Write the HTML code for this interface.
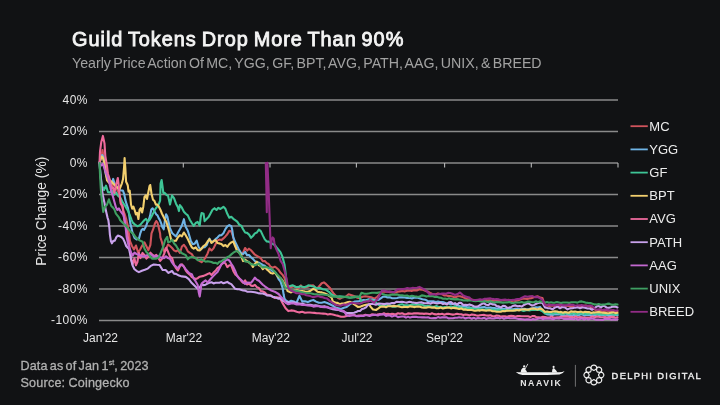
<!DOCTYPE html>
<html><head><meta charset="utf-8"><style>
html,body{margin:0;padding:0;background:#111214;}
body{width:720px;height:405px;overflow:hidden;position:relative;font-family:"Liberation Sans",Arial,sans-serif;}
svg{position:absolute;left:0;top:0;}
.t{position:absolute;white-space:nowrap;}
#title{left:72px;top:27.8px;font-size:19.9px;font-weight:normal;color:#f4f4f4;letter-spacing:0.98px;word-spacing:-1.6px;-webkit-text-stroke:0.85px #f4f4f4;}
#sub{left:72px;top:55px;font-size:14.2px;color:#a2a2a2;letter-spacing:0px;word-spacing:-1.6px;}
#f1{left:20.5px;top:358.6px;font-size:12.6px;color:#b0b0b0;letter-spacing:0.1px;word-spacing:-1.3px;-webkit-text-stroke:0.3px #b0b0b0;}
#f2{left:20.5px;top:376px;font-size:12.6px;color:#b0b0b0;letter-spacing:0.2px;word-spacing:-0.6px;-webkit-text-stroke:0.3px #b0b0b0;}
sup{font-size:7px;vertical-align:5px;line-height:0;}
</style></head><body>
<div class="t" id="title">Guild Tokens Drop More Than 90%</div>
<div class="t" id="sub">Yearly Price Action Of MC, YGG, GF, BPT, AVG, PATH, AAG, UNIX, &amp; BREED</div>
<svg width="720" height="405" viewBox="0 0 720 405">
<g stroke="#8a8a8a" stroke-width="1.4">
<line x1="99.0" y1="100.0" x2="618.0" y2="100.0" />
<line x1="99.0" y1="131.5" x2="618.0" y2="131.5" />
<line x1="99.0" y1="163.0" x2="618.0" y2="163.0" />
<line x1="99.0" y1="194.5" x2="618.0" y2="194.5" />
<line x1="99.0" y1="226.0" x2="618.0" y2="226.0" />
<line x1="99.0" y1="257.5" x2="618.0" y2="257.5" />
<line x1="99.0" y1="289.0" x2="618.0" y2="289.0" />
<line x1="99.0" y1="320.5" x2="618.0" y2="320.5" />
<line x1="183.3" y1="163.0" x2="183.3" y2="167.6" stroke="#b8b8b8" stroke-width="1.1" />
<line x1="270.0" y1="163.0" x2="270.0" y2="167.6" stroke="#b8b8b8" stroke-width="1.1" />
<line x1="356.4" y1="163.0" x2="356.4" y2="167.6" stroke="#b8b8b8" stroke-width="1.1" />
<line x1="444.6" y1="163.0" x2="444.6" y2="167.6" stroke="#b8b8b8" stroke-width="1.1" />
<line x1="531.3" y1="163.0" x2="531.3" y2="167.6" stroke="#b8b8b8" stroke-width="1.1" />
<line x1="618.0" y1="163.0" x2="618.0" y2="167.6" stroke="#b8b8b8" stroke-width="1.1" />
</g>
<g font-family="Liberation Sans, Arial, sans-serif" font-size="12" letter-spacing="0.45" fill="#e6e6e6" text-anchor="end">
<text x="87.9" y="103.6">40%</text>
<text x="87.9" y="135.1">20%</text>
<text x="87.9" y="166.6">0%</text>
<text x="87.9" y="198.1">-20%</text>
<text x="87.9" y="229.6">-40%</text>
<text x="87.9" y="261.1">-60%</text>
<text x="87.9" y="292.6">-80%</text>
<text x="87.9" y="324.1">-100%</text>
</g>
<g font-family="Liberation Sans, Arial, sans-serif" font-size="12" fill="#e6e6e6" text-anchor="middle">
<text x="100.5" y="341.6">Jan'22</text>
<text x="184.0" y="341.6">Mar'22</text>
<text x="270.8" y="341.6">May'22</text>
<text x="357.0" y="341.6">Jul'22</text>
<text x="444.5" y="341.6">Sep'22</text>
<text x="531.5" y="341.6">Nov'22</text>
</g>
<text transform="translate(46.3,211.2) rotate(-90)" font-family="Liberation Sans, Arial, sans-serif" font-size="13.8" fill="#e6e6e6" text-anchor="middle">Price Change (%)</text>
<g fill="none" stroke-width="2.1" stroke-linejoin="round" stroke-linecap="round">
<polyline points="99.5,163.0 101.0,158.0 102.5,150.0 104.0,160.0 106.0,168.5 108.0,175.0 110.0,182.5 112.0,186.1 114.0,183.6 116.0,187.5 118.9,193.1 120.4,200.0 121.9,206.3 123.3,210.8 124.8,214.5 126.3,219.4 127.8,225.7 128.5,231.4 129.3,235.6 130.0,241.2 132.0,246.0 134.0,249.5 136.0,245.5 138.0,252.3 140.0,249.8 142.0,246.1 144.4,242.3 146.4,246.2 148.4,250.2 150.4,244.9 151.5,233.4 153.0,229.7 154.9,223.6 156.3,221.0 157.4,222.5 158.3,225.8 160.1,233.4 160.4,237.4 161.9,242.0 163.7,249.3 164.2,251.5 166.2,248.5 168.1,244.5 170.0,246.0 172.1,248.0 174.0,250.3 176.0,251.4 177.9,250.1 179.9,253.0 181.9,246.5 183.9,244.8 185.8,247.3 187.8,251.4 189.8,252.9 191.8,254.1 193.7,257.3 195.7,258.1 197.7,259.4 199.7,261.1 201.6,262.2 203.6,260.2 205.6,257.3 207.6,253.4 209.5,248.4 211.5,250.5 213.5,248.4 215.5,244.2 217.5,240.4 219.4,239.6 221.4,240.1 223.4,238.4 225.4,236.4 227.3,234.2 229.3,230.9 231.3,231.3 233.3,237.5 235.2,245.0 237.2,251.2 239.2,251.7 241.2,254.3 243.1,252.7 245.1,248.0 247.1,250.6 249.0,248.7 251.0,250.3 254.9,254.7 256.9,255.9 260.8,258.2 262.8,261.3 264.8,261.0 266.8,263.1 268.7,264.0 270.7,266.8 272.7,267.8 274.7,266.7 276.6,267.9 278.6,269.8 280.6,272.8 282.6,274.9 284.5,277.9 286.5,284.3 288.5,286.3 290.5,287.3 294.4,286.3 296.4,287.7 298.4,288.2 300.8,285.4 302.3,287.3 305.1,287.6 307.8,286.8 310.6,285.5 313.3,285.4 315.4,287.4 317.5,288.2 319.6,285.8 321.7,283.3 323.9,282.4 325.9,283.9 327.9,285.9 329.9,287.9 331.8,290.8 333.8,293.8 335.8,295.8 337.8,297.7 339.7,298.7 342.5,297.2 345.7,296.8 348.6,294.3 351.6,295.3 354.6,296.3 357.5,297.7 359.5,298.2 362.4,296.8 365.4,296.3 368.4,296.8 371.3,297.3 374.3,298.7 377.3,296.8 379.2,294.8 381.8,291.8 384.4,291.8 387.1,291.6 389.7,292.3 392.3,292.0 395.0,292.6 397.6,291.8 399.9,291.4 402.3,291.0 404.6,291.4 406.9,290.7 409.2,290.5 411.5,290.9 414.1,290.2 416.8,290.5 419.4,289.4 422.4,289.6 425.3,290.9 427.6,291.5 430.0,293.0 432.0,293.8 434.0,294.1 436.0,294.3 438.0,293.4 440.0,294.0 442.0,294.2 444.0,295.4 446.0,295.2 448.0,295.9 450.0,296.0 452.5,296.5 455.0,297.5 457.5,296.2 460.0,296.3 462.5,297.0 465.0,298.1 467.2,298.9 469.4,299.4 471.6,299.6 473.8,300.0 475.8,300.0 477.9,300.1 479.9,300.0 481.9,300.2 483.9,300.7 485.9,299.8 488.0,300.4 490.0,300.3 492.1,300.9 494.2,300.8 496.3,299.9 498.5,301.0 500.6,300.9 502.7,300.0 504.8,300.1 506.9,300.1 509.0,299.9 511.2,301.2 513.3,300.4 515.4,301.1 517.5,300.6 520.0,299.5 522.5,298.7 525.0,298.8 527.1,298.9 529.2,298.4 531.2,298.2 533.3,297.4 535.4,296.8 537.5,296.3 540.0,297.6 542.5,298.1 545.0,305.8 547.0,305.2 549.0,305.9 551.0,305.8 553.0,305.4 555.0,306.0 557.0,305.7 559.0,305.9 561.0,305.8 563.0,305.7 565.0,306.0 567.1,305.8 569.2,306.2 571.2,306.7 573.3,306.7 575.4,306.6 577.5,306.6 579.6,305.8 581.7,306.8 583.8,305.8 585.8,305.6 587.9,306.2 590.0,306.2 592.0,308.0 594.0,308.8 596.0,310.5 598.1,310.8 600.3,310.3 602.5,311.4 604.6,310.7 606.8,310.8 608.9,311.0 611.0,311.5 613.2,311.7 615.4,311.2 617.5,311.2" stroke="#d0545c" />
<polyline points="99.5,163.0 100.8,158.0 102.2,155.0 103.4,157.0 104.6,166.0 105.8,174.5 107.0,177.8 109.0,179.5 111.8,183.5 113.2,178.9 114.8,184.8 117.0,186.5 119.0,189.7 121.0,190.5 122.9,190.5 124.2,194.1 125.4,200.1 126.6,204.2 127.9,207.8 129.1,214.3 129.7,219.2 130.3,223.3 132.6,232.9 134.5,238.0 136.5,239.4 139.0,238.6 140.2,233.7 141.5,230.1 142.7,228.9 144.0,229.8 145.2,227.8 146.4,225.2 147.6,221.4 148.9,219.6 150.1,215.6 151.3,209.5 152.6,208.3 153.8,210.0 155.0,212.3 156.3,214.5 157.5,215.4 158.7,218.1 160.0,220.3 161.2,223.4 162.4,227.3 163.7,229.3 164.9,220.2 166.1,214.2 167.4,216.8 168.6,222.2 170.1,229.0 170.1,228.3 172.1,233.0 174.0,234.7 176.0,236.4 177.9,232.8 179.9,229.2 181.9,225.5 183.9,219.2 184.8,223.5 185.8,227.1 187.8,230.7 189.8,237.2 190.8,241.1 192.8,244.1 194.7,243.7 196.7,240.7 198.7,247.3 200.7,249.4 202.6,247.5 204.6,247.3 206.6,245.3 208.6,240.4 209.5,238.7 211.5,242.2 213.5,241.3 215.5,239.1 217.5,237.5 219.4,235.4 221.4,235.2 223.4,233.3 225.4,229.1 227.3,226.4 229.3,225.1 231.3,226.2 232.3,230.3 233.3,237.3 235.2,242.1 237.2,246.0 239.2,250.1 241.2,253.3 243.1,254.1 245.1,251.9 247.0,255.1 249.0,255.0 251.0,257.2 252.9,258.9 254.9,261.1 256.9,262.3 258.9,262.6 262.8,265.0 264.8,265.8 266.8,267.9 270.7,269.5 272.7,271.3 274.7,271.8 276.6,274.8 278.6,279.1 280.6,281.6 282.6,287.9 283.6,294.3 284.5,298.6 285.5,300.1 288.5,302.1 291.1,300.7 293.8,301.5 296.4,303.1 299.4,295.8 302.2,301.4 305.0,301.3 307.8,302.1 310.6,300.7 313.3,300.0 316.1,301.6 318.9,302.8 321.6,302.8 324.4,302.1 327.2,303.0 330.0,304.2 332.8,305.7 335.6,307.6 338.4,308.2 341.1,309.0 343.9,307.7 346.7,306.9 349.4,304.7 352.2,302.8 355.0,301.5 357.8,301.4 360.6,300.7 363.3,300.0 366.1,300.3 368.9,299.3 371.6,299.5 374.4,300.0 376.6,300.2 378.9,299.7 382.8,296.8 385.1,296.5 387.4,297.4 389.7,297.3 392.2,298.2 394.7,298.3 397.1,298.0 399.6,297.3 402.1,297.4 404.6,297.5 407.0,297.9 409.5,297.8 412.0,298.5 414.4,297.6 416.9,297.6 419.4,298.3 422.4,299.3 425.3,299.7 427.6,301.0 430.0,301.2 432.0,301.4 434.0,301.4 436.0,302.0 438.0,301.4 440.0,302.0 442.0,302.1 444.0,302.4 446.0,303.3 448.0,303.3 450.0,304.0 452.5,303.8 455.0,304.4 457.5,305.3 460.0,306.3 462.5,306.3 464.8,306.4 467.0,307.3 469.3,307.3 471.5,308.2 473.8,308.1 475.9,308.0 477.9,307.4 480.0,307.5 482.1,307.2 484.2,307.0 486.2,307.8 488.3,307.8 490.4,307.6 492.5,308.0 494.6,308.0 496.7,308.8 498.8,308.0 500.8,309.3 502.9,308.7 505.0,308.8 507.1,308.9 509.2,308.8 511.2,309.3 513.3,309.3 515.4,308.9 517.5,308.8 519.6,309.1 521.7,309.3 523.8,308.7 525.8,309.1 527.9,309.4 530.0,308.8 532.0,308.4 534.0,307.7 536.0,307.3 538.0,307.6 540.0,306.9 542.5,310.2 545.0,313.0 547.5,314.5 550.0,314.8 552.0,315.3 554.0,314.5 556.0,314.4 558.0,314.5 560.0,314.5 562.0,315.2 564.0,315.4 566.0,315.5 568.0,314.6 570.0,315.0 572.1,315.5 574.2,314.8 576.2,314.9 578.3,315.4 580.4,314.5 582.5,314.5 584.6,315.6 586.7,314.8 588.8,314.9 590.8,315.3 592.9,315.4 595.0,315.2 597.0,314.5 599.1,315.0 601.1,315.2 603.2,315.3 605.2,314.9 607.3,315.4 609.3,316.0 611.4,315.2 613.4,315.4 615.5,314.8 617.5,315.4" stroke="#6fb4e6" />
<polyline points="99.5,163.0 100.5,175.0 102.0,186.0 104.0,190.0 106.0,185.6 108.0,192.3 110.0,192.4 112.0,190.6 114.0,194.7 116.0,192.4 118.0,195.7 120.4,197.8 122.9,202.7 125.4,206.4 127.9,210.7 129.7,215.0 131.6,219.8 132.8,222.6 135.0,224.6 137.6,226.3 140.2,224.9 142.8,221.9 144.5,220.0 146.0,218.9 148.0,221.6 149.7,219.7 151.4,216.7 153.2,213.3 154.9,209.6 156.6,207.3 158.3,205.4 160.1,200.7 160.6,183.5 161.6,180.0 162.5,186.2 163.3,192.9 164.5,192.7 166.3,194.8 168.1,195.9 170.0,204.4 172.0,195.4 174.0,198.1 176.0,203.7 177.9,207.3 178.9,211.1 179.9,205.0 181.9,207.7 183.9,211.7 185.8,213.8 187.8,215.4 189.8,219.7 191.8,223.0 193.7,225.8 195.7,223.0 197.7,221.9 199.7,225.5 200.7,217.3 201.6,213.0 203.6,213.8 204.6,221.1 206.6,219.0 208.6,217.1 210.5,213.5 212.5,209.8 214.5,208.2 216.5,210.0 218.4,207.8 220.4,209.0 223.4,206.8 225.4,208.8 227.3,213.8 229.3,217.7 231.3,216.8 233.3,218.8 235.2,220.2 237.2,221.7 239.2,224.7 241.2,225.6 243.1,229.3 245.1,232.5 247.1,232.9 249.1,234.6 251.0,237.8 252.9,236.0 254.9,233.4 256.9,232.5 258.9,229.5 260.8,231.1 262.8,235.4 264.8,239.4 266.8,241.5 268.7,241.6 270.7,242.9 272.7,243.9 274.7,245.0 276.6,247.5 278.6,250.0 280.6,252.4 282.6,257.2 284.5,264.5 285.5,272.4 286.5,282.3 287.5,286.3 289.5,286.3 292.5,285.3 296.4,287.3 298.4,286.9 300.4,286.3 304.3,287.3 306.3,286.6 308.3,285.3 312.2,286.3 314.2,286.6 316.2,288.2 320.0,288.0 322.9,289.3 325.9,289.8 328.9,291.8 331.8,294.8 334.8,296.3 337.2,296.5 339.7,296.3 342.2,296.5 344.7,296.8 347.1,297.3 349.6,297.7 352.1,297.4 354.6,297.3 357.1,296.6 359.5,296.8 361.5,302.0 364.4,301.5 366.9,300.8 369.4,300.0 371.9,300.1 374.3,301.5 377.1,303.6 379.9,305.7 382.3,305.8 384.8,305.4 387.2,305.4 389.7,305.2 392.7,306.7 395.0,306.7 397.3,305.9 399.6,304.7 402.1,304.3 404.6,305.4 407.0,305.2 409.5,305.2 412.0,304.4 414.4,304.8 416.9,304.5 419.4,304.7 421.5,304.4 423.6,305.4 425.8,306.2 427.9,305.7 430.0,306.2 432.1,306.8 434.3,306.7 436.4,306.0 438.6,307.2 440.7,306.9 442.9,307.5 445.0,307.0 447.0,307.2 449.0,307.1 451.0,306.4 453.0,306.9 455.0,306.3 457.1,307.3 459.2,307.6 461.2,307.5 463.3,308.3 465.4,308.4 467.5,308.8 469.6,308.4 471.7,308.4 473.8,308.5 475.8,308.8 477.9,308.8 480.0,309.4 482.1,309.4 484.2,309.8 486.2,309.6 488.3,309.5 490.4,309.9 492.5,309.4 494.6,309.7 496.7,310.2 498.8,309.7 500.8,309.5 502.9,310.5 505.0,310.0 507.0,310.4 509.0,309.9 511.0,310.0 513.0,310.3 515.0,310.4 517.0,310.0 519.0,309.7 521.0,310.1 523.0,310.9 525.0,310.6 527.1,310.0 529.3,310.4 531.4,309.9 533.6,309.9 535.7,309.7 537.9,310.0 540.0,310.0 542.5,311.3 545.0,313.6 547.1,312.9 549.2,313.1 551.2,313.2 553.3,313.6 555.4,313.0 557.5,313.0 559.6,313.6 561.7,313.5 563.8,314.0 565.8,313.1 567.9,313.6 570.0,313.7 572.1,313.6 574.2,313.1 576.2,314.4 578.3,313.4 580.4,313.3 582.5,313.8 584.6,313.4 586.7,314.1 588.8,313.7 590.8,313.4 592.9,313.3 595.0,314.0 597.0,314.3 599.1,313.7 601.1,314.5 603.2,314.1 605.2,314.7 607.3,313.9 609.3,313.8 611.4,313.9 613.4,314.7 615.5,314.5 617.5,314.3" stroke="#3ec596" />
<polyline points="99.5,163.0 100.6,159.0 101.8,156.5 103.0,158.0 104.2,162.8 105.5,171.3 107.0,180.3 109.0,182.8 111.0,181.1 113.0,183.2 115.0,185.2 117.0,187.3 119.7,188.8 121.9,183.3 123.0,179.3 124.0,168.2 124.6,158.0 125.3,167.5 126.1,181.8 127.2,184.0 127.8,185.5 128.5,191.6 129.7,190.7 130.3,196.7 131.0,204.5 132.2,208.7 133.4,206.7 134.7,210.3 135.9,214.4 137.1,212.8 138.4,219.0 139.6,209.6 140.8,208.2 142.1,212.5 143.3,206.7 144.5,196.9 145.8,195.3 147.0,199.0 148.2,193.0 149.5,186.1 150.2,185.0 151.5,193.7 153.0,199.7 154.4,200.9 155.9,204.7 157.4,204.5 158.9,206.8 160.4,209.7 161.9,213.5 163.3,216.3 164.8,219.4 166.3,221.8 167.8,226.5 169.3,231.8 171.1,239.5 173.5,240.9 176.0,240.7 177.9,237.3 179.9,235.2 181.9,236.3 183.9,232.5 185.8,235.4 187.8,239.0 189.8,243.4 191.8,247.3 193.7,248.6 195.7,247.3 197.7,250.1 199.7,250.4 201.6,248.5 203.6,246.0 205.6,244.6 207.6,241.5 209.5,239.2 211.5,242.9 213.5,241.2 215.5,240.1 217.5,243.0 219.4,243.4 221.4,244.1 223.4,246.1 225.4,245.0 227.3,246.8 229.3,244.0 231.3,242.4 233.3,241.5 235.2,246.3 237.2,250.8 239.2,252.6 241.2,255.0 242.2,258.8 243.1,261.1 245.0,259.6 247.1,261.1 249.0,262.5 251.0,263.8 252.9,267.0 254.9,263.9 256.9,261.7 258.9,265.2 260.8,266.0 262.8,269.1 264.8,267.3 266.8,269.4 268.7,271.0 270.7,272.9 272.7,273.6 274.7,272.6 276.6,274.8 278.6,277.0 280.6,278.2 282.6,280.5 284.5,284.2 286.5,288.2 287.5,291.0 291.1,292.4 293.9,290.8 296.7,290.3 299.4,291.1 302.2,291.0 305.0,291.5 307.8,291.7 310.6,290.7 313.3,288.9 315.4,289.9 317.5,291.7 319.6,292.1 321.7,292.4 324.4,293.3 327.2,294.4 329.3,296.1 331.4,297.2 332.8,301.4 335.6,302.8 337.6,302.9 339.7,304.2 341.8,303.6 343.9,303.5 346.0,302.8 348.1,302.1 350.1,301.9 352.2,302.8 355.0,304.9 357.8,306.9 360.6,306.6 363.3,305.6 366.1,304.8 368.9,304.2 370.9,307.1 373.0,309.5 376.0,310.0 378.0,308.7 380.0,307.1 382.0,306.5 384.0,306.6 386.0,307.3 388.0,306.2 390.0,306.3 392.0,306.3 394.0,305.9 396.0,306.2 398.0,306.2 400.0,306.8 402.0,307.3 404.0,306.9 406.0,307.0 408.0,307.1 410.0,306.3 412.0,306.6 414.0,307.1 416.0,306.7 418.0,306.6 420.0,306.8 422.0,307.5 424.0,307.6 426.0,307.7 428.0,307.2 430.0,307.3 432.1,307.8 434.3,307.4 436.4,308.3 438.6,308.3 440.7,307.5 442.9,308.5 445.0,308.0 447.0,307.6 449.0,307.5 451.0,308.4 453.0,307.8 455.0,308.1 457.1,308.4 459.2,308.9 461.2,308.4 463.3,309.7 465.4,309.4 467.5,310.0 469.6,310.0 471.7,310.0 473.8,310.6 475.8,310.7 477.9,310.2 480.0,310.6 482.1,310.1 484.2,310.4 486.2,310.7 488.3,310.2 490.4,310.4 492.5,311.3 494.6,311.3 496.7,311.7 498.8,311.8 500.8,311.7 502.9,311.1 505.0,311.3 507.0,310.6 509.0,310.7 511.0,310.7 513.0,310.6 515.0,310.4 517.0,310.0 519.0,310.5 521.0,309.5 523.0,309.5 525.0,309.4 527.0,309.8 529.0,309.6 531.0,308.8 533.0,308.6 535.0,308.8 537.5,309.4 540.0,308.5 542.5,309.4 545.0,311.9 547.0,311.4 549.0,312.0 551.0,312.0 553.0,311.5 555.0,311.3 557.0,311.5 559.0,312.3 561.0,311.9 563.0,312.7 565.0,312.0 567.0,312.4 569.0,312.7 571.0,311.4 573.0,311.7 575.0,311.5 577.0,312.1 579.0,312.0 581.0,311.6 583.0,312.4 585.0,311.8 587.0,312.1 589.0,312.0 591.0,312.9 593.0,312.4 595.0,312.5 597.0,312.2 599.1,311.9 601.1,312.5 603.2,312.8 605.2,312.9 607.3,313.2 609.3,313.1 611.4,312.4 613.4,312.2 615.5,313.1 617.5,312.8" stroke="#f2cf6e" />
<polyline points="99.5,163.0 100.0,151.7 101.3,141.9 102.9,135.9 104.5,143.4 105.3,155.8 106.9,165.4 107.9,173.7 109.8,179.6 111.5,188.7 113.0,187.2 114.4,192.9 115.9,185.6 117.8,178.0 118.7,185.2 119.7,195.2 120.7,203.6 122.7,206.1 124.7,222.9 126.6,230.0 128.6,240.7 129.6,249.0 130.6,254.3 131.6,260.6 132.6,264.5 134.4,258.2 135.9,265.2 137.4,262.0 138.9,252.7 140.4,258.1 142.5,252.9 144.4,255.0 146.4,258.6 148.4,256.6 150.4,252.6 152.3,254.7 154.3,256.1 156.3,254.8 158.3,257.9 160.2,260.9 162.2,258.6 164.2,253.7 166.2,247.8 168.1,251.8 170.1,256.7 172.1,258.1 174.0,264.7 176.0,268.2 177.9,270.5 179.9,266.3 181.9,264.3 183.9,266.6 185.8,270.6 187.8,273.0 189.8,274.7 191.8,277.1 195.7,279.0 197.7,278.2 199.7,276.7 203.6,275.9 205.6,275.0 209.5,273.1 211.5,275.0 213.5,272.6 215.5,270.8 217.5,268.0 219.4,267.0 221.4,264.6 223.4,262.2 225.4,263.3 227.3,267.1 229.3,265.3 231.3,265.3 233.3,271.0 235.2,274.3 237.2,275.8 239.2,278.1 241.2,280.7 243.1,282.9 245.1,280.3 247.1,284.5 249.0,283.6 251.0,285.6 252.9,286.0 254.9,284.9 256.9,287.1 258.9,288.0 260.8,291.0 262.8,291.4 264.8,292.5 266.8,294.4 270.7,295.4 272.7,296.6 274.7,298.0 276.6,297.2 278.6,297.5 280.0,298.3 282.8,303.4 285.6,308.3 288.3,311.1 291.1,310.4 293.9,310.8 296.7,311.8 299.4,312.4 302.2,311.8 305.0,312.7 307.8,312.5 310.0,312.5 312.2,312.7 314.5,312.9 316.7,313.3 318.9,313.2 321.1,313.5 323.3,313.6 325.6,313.8 327.8,314.4 330.0,313.9 332.8,314.6 335.6,315.3 338.4,315.9 341.1,316.7 343.9,316.7 346.7,316.0 349.4,315.3 352.2,315.3 354.4,315.1 356.6,316.1 358.9,315.5 361.1,315.6 363.3,315.6 365.5,314.8 367.7,315.2 370.0,315.2 372.2,314.3 374.4,314.8 377.2,314.6 380.0,314.0 382.0,314.2 384.0,313.3 386.0,314.1 388.0,313.9 390.0,314.2 392.0,313.7 394.0,314.1 396.0,314.2 398.0,313.2 400.0,313.8 402.0,313.2 404.0,314.0 406.0,314.4 408.0,313.4 410.0,313.6 412.0,313.8 414.0,313.4 416.0,313.4 418.0,313.4 420.0,313.6 422.0,313.5 424.0,313.9 426.0,313.5 428.0,313.7 430.0,314.3 432.0,313.3 434.0,314.1 436.0,314.4 438.0,313.9 440.0,314.2 442.1,313.8 444.3,314.7 446.4,313.9 448.6,313.8 450.7,314.2 452.9,314.6 455.0,314.3 457.1,313.8 459.2,314.2 461.2,314.3 463.3,315.1 465.4,314.6 467.5,314.8 469.6,315.4 471.7,314.5 473.8,314.8 475.9,315.3 477.9,315.7 480.0,315.2 482.1,315.0 484.2,314.9 486.3,315.5 488.4,315.6 490.5,315.2 492.5,316.2 494.6,316.3 496.7,315.5 498.8,315.7 500.8,316.6 502.9,316.4 505.0,316.3 507.1,316.7 509.2,316.1 511.3,315.8 513.4,316.0 515.4,316.7 517.5,316.0 519.6,316.1 521.7,316.2 523.8,316.3 525.9,316.3 528.0,316.3 530.2,317.1 532.3,316.1 534.4,316.0 536.5,317.3 538.6,317.3 540.8,317.5 542.9,316.8 545.0,317.0 547.1,317.6 549.1,317.6 551.2,316.6 553.2,317.3 555.3,317.5 557.4,317.2 559.4,317.0 561.5,316.7 563.5,316.8 565.6,316.6 567.6,316.4 569.7,317.1 571.8,316.7 573.8,317.4 575.9,316.4 577.9,317.6 580.0,317.0 582.1,317.3 584.2,317.6 586.2,317.6 588.3,317.6 590.4,317.2 592.5,316.4 594.6,317.4 596.7,316.6 598.8,316.8 600.8,317.3 602.9,317.2 605.0,317.0 607.1,317.8 609.2,317.3 611.2,316.9 613.3,316.8 615.4,317.7 617.5,317.2" stroke="#ee6a9c" />
<polyline points="99.5,163.0 100.5,175.0 101.9,189.8 103.0,196.0 104.5,203.0 106.0,211.1 107.5,217.6 108.4,220.3 109.4,228.0 109.9,234.6 110.9,241.1 111.9,243.3 113.3,240.9 114.8,240.6 116.3,237.3 117.8,235.6 119.8,236.3 121.7,237.2 123.2,238.9 124.7,242.1 126.2,246.0 127.7,247.7 129.1,249.1 130.5,256.0 131.0,259.5 132.6,265.5 134.5,269.2 136.5,270.8 138.9,272.1 141.9,270.7 144.8,269.8 147.8,268.6 150.7,265.9 153.7,264.5 156.7,264.8 159.6,265.0 162.6,270.0 165.6,270.0 168.5,272.9 172.0,271.0 174.0,273.6 176.0,273.9 179.0,275.6 181.9,276.4 185.8,276.9 188.8,279.1 191.8,283.1 195.7,286.8 197.7,288.6 199.5,287.6 201.6,284.7 203.6,285.1 205.6,284.7 208.5,283.1 211.5,282.2 213.5,283.4 215.5,282.7 219.4,282.7 221.4,282.1 223.4,283.3 227.3,281.9 229.3,283.3 231.3,284.1 235.2,288.8 237.2,289.1 239.2,289.3 243.1,290.5 245.1,290.6 247.1,291.7 251.0,291.8 254.9,292.3 258.0,293.1 260.4,293.4 262.8,293.5 264.8,294.2 266.8,295.4 270.7,295.6 272.7,297.0 274.7,297.1 278.6,298.8 280.0,297.8 282.6,300.5 285.6,302.1 288.4,302.3 291.1,302.8 293.6,302.3 296.0,303.0 298.1,303.2 300.1,303.7 302.2,303.5 305.0,304.8 307.8,304.9 310.6,304.8 313.3,305.6 315.6,305.2 318.0,305.8 320.1,306.6 322.3,306.5 324.4,306.3 327.2,307.3 330.0,308.3 332.8,309.3 335.6,309.7 338.4,309.9 341.1,311.1 343.9,311.8 346.7,313.0 349.4,313.1 352.0,313.0 354.0,312.7 356.0,312.1 358.0,311.0 360.0,311.0 362.0,309.1 364.0,308.4 366.0,307.3 368.0,304.9 370.0,304.0 372.9,303.7 375.9,304.7 378.9,303.6 381.8,303.7 384.4,304.1 387.1,303.5 389.7,303.7 392.0,303.0 394.4,303.1 396.7,301.7 399.3,302.0 402.0,301.7 404.6,302.2 407.1,302.6 409.5,301.8 411.9,302.3 414.4,302.7 416.9,303.1 419.4,302.5 421.8,302.4 424.3,303.2 426.4,303.2 428.6,302.9 430.7,303.7 432.9,302.5 435.0,303.0 437.0,303.5 439.0,303.0 441.0,302.9 443.0,304.1 445.0,303.5 447.0,304.5 449.0,302.3 451.0,302.1 453.0,303.9 455.0,303.1 457.1,304.6 459.2,302.7 461.2,302.9 463.3,305.0 465.4,304.9 467.5,305.0 469.6,304.4 471.7,305.2 473.8,306.3 475.9,306.7 477.9,306.4 480.0,305.0 482.1,303.8 484.2,303.3 486.2,304.8 488.3,305.2 490.4,303.3 492.5,304.4 494.6,304.3 496.7,306.1 498.8,306.3 500.9,307.6 503.0,305.8 505.1,306.0 507.1,307.8 509.2,307.6 511.3,306.9 513.4,305.8 515.4,305.4 517.5,306.3 519.6,306.1 521.7,306.6 523.8,305.0 525.9,304.0 527.9,303.2 530.0,304.4 532.1,305.6 534.2,304.9 536.3,303.8 538.4,302.9 540.4,302.4 542.5,303.1 545.0,307.5 547.5,308.1 550.0,308.2 552.5,309.3 555.0,307.4 557.5,306.6 560.0,308.3 562.5,306.9 565.0,307.5 567.5,309.4 570.0,308.4 572.5,308.3 575.0,307.6 577.5,307.1 580.0,308.3 582.5,307.2 585.0,307.7 587.5,308.5 590.0,308.5 592.0,309.8 594.0,308.3 597.0,306.3 599.0,306.0 601.0,307.6 603.0,305.5 605.0,306.4 607.0,307.8 609.0,307.7 611.0,307.3 613.0,306.6 615.2,306.5 617.5,307.4" stroke="#c9a2ec" />
<polyline points="99.5,163.0 101.0,165.6 102.9,163.6 104.9,170.1 107.0,175.6 109.0,181.3 111.0,190.3 113.0,196.7 115.9,207.2 117.4,209.9 118.9,208.4 120.4,211.1 123.3,214.8 125.0,221.3 126.6,236.7 128.6,245.7 130.6,251.0 131.6,253.8 132.6,255.6 134.5,252.7 136.5,254.0 138.5,254.7 142.0,256.0 144.2,256.4 146.4,255.6 150.0,254.3 152.0,255.0 154.0,256.7 156.0,255.7 158.0,256.3 160.0,257.3 162.0,257.7 164.2,258.1 166.0,256.3 168.0,258.1 170.0,258.8 172.0,262.4 174.0,265.2 176.0,266.7 177.9,268.2 180.4,264.5 183.3,265.9 186.3,270.0 189.3,273.3 191.8,274.2 193.7,278.6 195.7,281.4 197.7,285.0 198.7,292.2 199.7,296.6 200.7,289.9 201.6,283.6 203.6,281.9 205.6,280.4 207.6,282.5 211.5,278.0 213.5,275.9 215.5,273.8 217.5,271.9 219.4,268.5 221.4,264.1 223.4,263.1 225.4,260.7 227.3,259.3 229.3,260.5 231.3,263.8 233.3,266.9 235.2,270.9 237.2,276.2 239.2,278.7 241.2,279.9 245.1,283.9 247.1,282.6 251.0,282.8 252.9,280.5 254.9,277.6 256.9,279.7 258.9,280.7 262.8,284.7 264.8,286.3 268.7,289.0 270.7,290.2 272.7,291.1 274.7,291.7 278.6,294.0 280.6,296.4 282.6,298.4 284.5,300.8 285.6,302.8 288.3,304.2 291.1,303.4 293.9,303.5 296.6,304.4 299.4,304.2 302.2,305.0 305.0,304.9 307.8,305.5 310.6,305.6 313.4,306.6 316.1,306.3 318.9,306.1 321.7,306.9 324.4,307.3 327.2,306.9 330.0,308.2 332.8,308.3 335.6,308.5 338.3,309.7 341.1,310.5 343.9,311.1 346.7,315.3 349.4,315.9 352.2,315.3 354.4,315.2 356.6,316.1 358.9,316.3 361.1,315.8 363.3,316.0 365.4,315.3 367.5,315.3 369.6,315.9 371.6,315.2 373.7,314.9 375.8,314.9 377.9,315.4 380.0,314.6 382.0,314.5 384.0,314.4 386.0,315.9 388.0,315.2 390.0,315.5 392.0,316.6 394.0,315.8 396.0,315.8 398.0,317.1 400.0,316.8 402.0,316.5 404.0,316.5 406.0,317.6 408.0,316.6 410.0,317.6 412.0,316.9 414.0,316.9 416.0,316.8 418.0,317.3 420.0,317.3 422.0,317.4 424.0,317.3 426.0,317.5 428.0,317.2 430.0,318.0 432.0,318.2 434.0,318.0 436.0,318.1 438.0,317.1 440.0,317.8 442.1,317.4 444.3,317.4 446.4,317.3 448.6,318.4 450.7,318.3 452.9,318.3 455.0,317.7 457.1,317.8 459.2,317.3 461.2,317.7 463.3,317.3 465.4,318.5 467.5,317.7 469.6,317.8 471.7,318.7 473.8,317.7 475.8,318.8 477.9,318.0 480.0,318.3 482.0,318.5 484.0,317.7 486.0,318.9 488.0,318.2 490.0,318.1 492.0,318.5 494.0,318.4 496.0,318.0 498.0,317.8 500.0,318.4 502.0,317.6 504.0,318.8 506.0,318.1 508.0,317.8 510.0,318.3 512.1,318.2 514.3,318.1 516.4,318.6 518.6,319.1 520.7,319.1 522.9,319.2 525.0,319.6 527.0,319.2 529.0,319.4 531.0,319.7 533.0,319.1 535.0,319.5 537.0,319.0 539.0,318.4 541.0,318.3 543.0,319.2 545.0,318.6 547.1,318.6 549.1,318.5 551.2,318.7 553.2,319.2 555.3,318.5 557.4,318.5 559.4,318.6 561.5,318.1 563.5,318.9 565.6,318.8 567.6,318.9 569.7,318.8 571.8,318.9 573.8,319.2 575.9,318.5 577.9,319.7 580.0,319.0 582.1,318.5 584.2,319.5 586.2,318.6 588.3,319.5 590.4,318.7 592.5,318.5 594.6,319.2 596.7,319.6 598.8,319.6 600.8,319.7 602.9,319.9 605.0,318.6 607.1,319.0 609.2,318.7 611.2,319.6 613.3,319.2 615.4,319.6 617.5,319.3" stroke="#c468d0" />
<polyline points="99.5,163.0 99.8,170.0 100.2,178.0 100.7,187.3 101.5,197.0 102.5,206.0 103.2,212.0 105.0,206.9 106.9,204.8 108.9,199.3 110.0,202.7 111.5,206.3 113.0,207.6 114.4,209.5 115.9,213.7 118.9,217.4 120.2,220.3 123.7,223.8 125.7,225.5 127.7,228.1 131.6,232.6 133.6,234.1 135.6,237.1 138.5,239.6 140.5,240.8 142.6,241.7 144.4,248.4 146.4,252.1 148.4,254.1 150.4,256.5 152.3,258.8 154.3,258.8 156.3,258.6 158.3,257.8 160.2,254.1 163.2,246.6 165.2,239.9 167.2,236.8 168.1,242.1 170.0,241.7 172.1,239.7 174.1,243.5 176.0,245.5 177.9,248.8 179.9,251.1 181.9,253.2 185.8,255.1 187.8,259.3 189.8,257.5 191.8,256.9 195.7,258.0 197.7,260.2 201.6,259.4 203.6,260.6 205.6,261.7 207.6,261.3 211.5,262.0 213.5,263.0 215.5,262.7 217.5,263.8 219.4,261.7 221.4,261.4 223.4,259.8 225.4,259.1 227.3,257.1 229.3,256.2 231.3,254.4 233.3,252.7 235.2,251.6 237.2,250.9 239.2,253.0 241.2,256.5 243.1,258.0 245.1,261.4 247.0,261.8 249.0,261.8 251.0,264.4 252.9,264.4 254.9,265.3 258.9,263.8 260.8,265.7 262.8,267.5 264.8,266.9 266.8,267.1 268.7,268.0 270.7,268.2 272.7,269.8 274.7,271.5 276.6,274.0 278.6,275.9 280.6,278.2 282.6,281.6 284.5,286.5 286.5,288.2 288.5,288.5 290.5,290.2 293.1,291.1 295.8,290.9 298.4,291.2 302.3,292.2 304.3,292.8 306.3,293.2 308.9,293.0 311.6,293.5 314.2,294.2 316.8,294.2 319.5,294.7 322.1,294.2 324.7,294.8 327.4,295.0 330.0,295.8 332.8,296.8 335.6,296.5 338.4,297.1 341.1,297.2 343.3,297.2 345.5,296.8 347.8,296.9 350.0,297.8 352.2,297.2 354.6,296.6 357.1,297.0 359.5,296.8 361.5,292.8 364.4,293.8 366.9,293.7 369.4,293.3 371.9,292.8 374.3,292.8 377.1,292.9 379.9,292.3 382.4,294.1 384.8,294.8 387.3,295.3 389.8,295.1 392.2,294.4 394.7,294.8 397.2,294.4 399.6,295.2 402.1,295.3 404.6,295.8 407.1,295.5 409.5,296.6 411.9,295.8 414.4,296.3 416.9,296.6 419.4,296.7 421.8,295.4 424.3,295.8 426.4,296.6 428.6,296.1 430.7,296.1 432.9,296.3 435.0,297.0 437.0,296.7 439.0,297.6 441.0,297.7 443.0,298.7 445.0,298.5 447.0,299.1 449.0,298.2 451.0,298.9 453.0,299.1 455.0,299.4 457.1,299.1 459.2,299.5 461.2,299.7 463.3,300.5 465.4,300.2 467.5,300.6 469.6,300.2 471.7,300.4 473.8,300.9 475.8,301.2 477.9,300.8 480.0,301.3 482.1,301.7 484.2,301.1 486.2,301.8 488.3,301.9 490.4,301.3 492.5,301.9 494.6,302.4 496.7,302.0 498.8,302.3 500.8,302.4 502.9,302.6 505.0,302.5 507.1,302.4 509.2,301.9 511.2,302.9 513.3,303.0 515.4,302.5 517.5,302.5 519.6,302.5 521.7,302.0 523.8,302.8 525.8,302.4 527.9,301.6 530.0,301.9 532.0,302.2 534.0,302.3 536.0,301.3 538.0,302.1 540.0,301.3 542.5,301.9 545.0,302.5 547.0,302.1 549.0,302.8 551.0,302.3 553.0,302.8 555.0,302.6 557.0,302.0 559.0,302.5 561.0,303.0 563.0,302.5 565.0,302.5 567.1,302.5 569.2,302.9 571.3,302.2 573.4,302.2 575.4,302.3 577.5,302.6 579.6,301.6 581.7,301.4 583.8,301.9 586.0,302.7 588.1,302.9 590.3,303.0 592.5,303.8 594.6,304.4 596.7,304.5 598.8,304.0 600.8,304.7 602.9,304.6 605.0,304.5 607.1,303.9 609.2,303.6 611.2,304.6 613.3,304.7 615.4,304.2 617.5,304.5" stroke="#3f9f62" />
<polyline points="265.8,163.0 266.3,185.8 266.8,212.3 266.9,187.6 267.4,162.7 268.6,189.3 269.8,222.6 270.7,248.3 271.7,240.1 272.7,237.4 273.7,238.4 274.7,245.1 276.6,249.9 278.6,254.1 280.6,260.9 282.6,263.8 284.5,270.5 286.5,278.4 287.5,284.3 288.5,288.2 290.5,290.2 294.4,292.2 296.4,293.3 298.4,293.2 302.3,294.2 304.3,294.3 306.3,295.2 310.2,296.1 312.2,296.9 314.2,297.1 318.1,296.1 320.1,296.9 322.1,297.1 324.6,298.0 327.2,298.6 330.0,301.1 332.8,302.8 335.6,304.9 338.4,305.5 341.1,305.6 343.9,304.6 346.7,304.9 349.4,303.4 352.2,302.8 355.0,303.2 357.8,303.5 360.6,303.5 363.3,302.1 366.1,301.4 368.9,301.4 370.0,299.7 372.0,301.3 374.0,302.7 377.9,298.8 380.9,292.8 381.8,290.9 384.4,290.5 387.1,291.7 389.7,291.4 391.7,291.8 393.7,292.3 397.6,289.4 399.9,289.3 402.3,289.3 404.6,288.9 407.2,288.1 409.8,288.6 412.4,287.9 414.7,288.0 417.1,287.7 419.4,286.9 423.3,288.9 425.3,290.0 427.3,291.8 430.0,294.8 432.0,294.3 434.0,294.0 436.0,294.9 438.0,294.1 440.0,294.0 442.0,293.6 444.0,293.6 446.0,293.7 448.0,292.9 450.0,293.0 452.5,293.8 455.0,295.0 457.5,294.1 460.0,292.5 462.5,294.8 465.0,296.3 467.2,296.9 469.4,297.6 471.6,299.7 473.8,300.0 475.9,300.1 478.0,299.7 480.1,299.3 482.1,299.8 484.2,298.9 486.3,298.8 488.4,298.5 490.5,298.4 492.6,298.9 494.6,299.3 496.7,299.1 498.8,299.4 500.9,300.1 503.0,299.8 505.1,299.6 507.1,300.0 509.2,300.0 511.3,300.0 513.5,299.9 515.6,299.4 517.8,299.1 520.0,298.8 522.5,297.5 525.0,296.3 527.5,296.8 530.0,296.3 532.5,296.1 535.0,297.1 537.5,296.9 540.0,298.2 542.5,300.0 545.0,305.0 547.0,305.5 549.0,304.5 551.0,305.1 553.0,305.0 555.0,305.4 557.0,304.8 559.0,304.9 561.0,304.7 563.0,305.4 565.0,305.3 567.1,305.4 569.2,304.6 571.2,304.9 573.3,304.9 575.4,306.0 577.5,305.3 579.6,305.5 581.7,305.1 583.8,305.7 585.8,305.9 587.9,305.7 590.0,305.5 592.0,306.1 594.0,308.1 596.0,309.5 598.1,309.6 600.3,309.0 602.5,310.1 604.6,309.6 606.8,309.6 608.9,310.2 611.0,310.2 613.2,310.1 615.4,310.7 617.5,310.3" stroke="#922c86" />
</g>
<g stroke-width="1.8" font-family="Liberation Sans, Arial, sans-serif" font-size="13" fill="#ececec">
<line x1="630.5" y1="126.2" x2="647.8" y2="126.2" stroke="#d0545c" />
<text x="649.3" y="130.6">MC</text>
<line x1="630.5" y1="149.4" x2="647.8" y2="149.4" stroke="#6fb4e6" />
<text x="649.3" y="153.8">YGG</text>
<line x1="630.5" y1="172.6" x2="647.8" y2="172.6" stroke="#3ec596" />
<text x="649.3" y="177.0">GF</text>
<line x1="630.5" y1="195.8" x2="647.8" y2="195.8" stroke="#f2cf6e" />
<text x="649.3" y="200.2">BPT</text>
<line x1="630.5" y1="219.0" x2="647.8" y2="219.0" stroke="#ee6a9c" />
<text x="649.3" y="223.4">AVG</text>
<line x1="630.5" y1="242.2" x2="647.8" y2="242.2" stroke="#c9a2ec" />
<text x="649.3" y="246.6">PATH</text>
<line x1="630.5" y1="265.4" x2="647.8" y2="265.4" stroke="#c468d0" />
<text x="649.3" y="269.8">AAG</text>
<line x1="630.5" y1="288.6" x2="647.8" y2="288.6" stroke="#3f9f62" />
<text x="649.3" y="293.0">UNIX</text>
<line x1="630.5" y1="311.8" x2="647.8" y2="311.8" stroke="#922c86" />
<text x="649.3" y="316.2">BREED</text>
</g>
<g fill="#f2f2f2" stroke="none">
<path d="M515.8,371.9 Q519,372.4 523,372.3 L559,372.2 Q562.5,372 564.6,370.9 Q563.2,373.6 559.5,374.5 Q541,375.3 522.5,374.9 Q518.2,374.4 515.8,371.9 Z"/>
<circle cx="524.2" cy="366.4" r="1.15"/>
<path d="M520.6,372.4 Q520.8,369.6 522.6,368.1 Q524.2,367.4 525.4,368.4 L525.2,369.6 Q526.6,370.6 527.2,372.4 Z"/>
</g>
<line x1="523.6" y1="371.6" x2="527.9" y2="363.9" stroke="#f2f2f2" stroke-width="0.8"/>
<g fill="#f2f2f2"><circle cx="553.6" cy="366.9" r="1.05"/>
<path d="M552.0,372.4 Q552.0,369.4 553.0,368.3 Q554.4,367.9 555.0,369.3 Q556.2,370.4 557.4,372.4 Z"/></g>
<text x="520.2" y="386" font-family="Liberation Sans, Arial, sans-serif" font-weight="bold" font-size="8.7" letter-spacing="1.6" fill="#e8e8e8">NAAVIK</text>
<line x1="575.4" y1="364.9" x2="575.4" y2="386.7" stroke="#7a7a7a" stroke-width="0.9"/>
<g fill="none" stroke="#ececec" stroke-width="1.2">
<polygon points="598.6,375.0 598.6,375.3 598.7,375.7 599.0,376.1 599.3,376.6 599.9,377.2 601.1,378.2 601.6,379.1 601.7,379.9 601.6,380.6 601.4,381.3 601.0,381.9 600.5,382.3 599.8,382.7 599.1,382.8 598.4,382.8 597.5,382.6 596.5,381.4 595.7,380.7 595.2,380.3 594.7,380.0 594.4,379.8 594.0,379.7 593.7,379.7 593.3,379.8 593.0,380.0 592.5,380.3 592.0,380.7 591.2,381.4 590.2,382.6 589.3,382.8 588.6,382.8 587.9,382.7 587.2,382.3 586.7,381.9 586.3,381.3 586.1,380.6 586.0,379.9 586.1,379.1 586.6,378.2 587.8,377.2 588.4,376.6 588.7,376.1 589.0,375.7 589.1,375.3 589.1,375.0 589.1,374.7 589.0,374.3 588.7,373.9 588.4,373.4 587.8,372.8 586.6,371.8 586.1,370.9 586.0,370.1 586.1,369.4 586.3,368.7 586.7,368.1 587.2,367.7 587.9,367.3 588.6,367.2 589.3,367.2 590.2,367.4 591.2,368.6 592.0,369.3 592.5,369.7 593.0,370.0 593.3,370.2 593.7,370.3 594.0,370.3 594.4,370.2 594.7,370.0 595.2,369.7 595.7,369.3 596.5,368.6 597.5,367.4 598.4,367.2 599.1,367.2 599.8,367.3 600.5,367.7 601.0,368.1 601.4,368.7 601.6,369.4 601.7,370.1 601.6,370.9 601.1,371.8 599.9,372.8 599.3,373.4 599.0,373.9 598.7,374.3 598.6,374.7"/>
<polygon points="603.8,375.0 603.7,375.7 603.4,376.3 603.0,376.9 602.4,377.4 601.6,377.8 599.9,377.7 599.0,377.7 598.4,377.8 597.9,377.9 597.5,378.1 597.2,378.3 597.0,378.5 596.9,378.9 596.7,379.3 596.6,379.8 596.6,380.6 596.7,382.1 596.5,383.2 596.1,383.9 595.5,384.4 594.9,384.7 594.2,384.9 593.5,384.9 592.8,384.7 592.2,384.4 591.6,383.9 591.2,383.2 591.0,382.1 591.1,380.6 591.1,379.8 591.0,379.3 590.8,378.9 590.7,378.5 590.5,378.3 590.2,378.1 589.8,377.9 589.3,377.8 588.7,377.7 587.8,377.7 586.1,377.8 585.3,377.4 584.7,376.9 584.3,376.3 584.0,375.7 584.0,375.0 584.0,374.3 584.3,373.7 584.7,373.1 585.3,372.6 586.1,372.2 587.8,372.3 588.7,372.3 589.3,372.2 589.8,372.1 590.2,371.9 590.5,371.7 590.7,371.5 590.8,371.1 591.0,370.7 591.1,370.2 591.1,369.4 591.0,367.9 591.2,366.8 591.6,366.1 592.2,365.6 592.8,365.3 593.5,365.1 594.2,365.1 594.9,365.3 595.5,365.6 596.1,366.1 596.5,366.8 596.7,367.9 596.6,369.4 596.6,370.2 596.7,370.7 596.9,371.1 597.0,371.5 597.2,371.7 597.5,371.9 597.9,372.1 598.4,372.2 599.0,372.3 599.9,372.3 601.6,372.2 602.4,372.6 603.0,373.1 603.4,373.7 603.7,374.3"/>
</g>
<text x="611.6" y="379.2" font-family="Liberation Sans, Arial, sans-serif" font-size="9.3" letter-spacing="1.35" fill="#ededed" stroke="#ededed" stroke-width="0.4">DELPHI DIGITAL</text>
</svg>
<div class="t" id="f1">Data as of Jan 1<sup>st</sup>, 2023</div>
<div class="t" id="f2">Source: Coingecko</div>
</body></html>
